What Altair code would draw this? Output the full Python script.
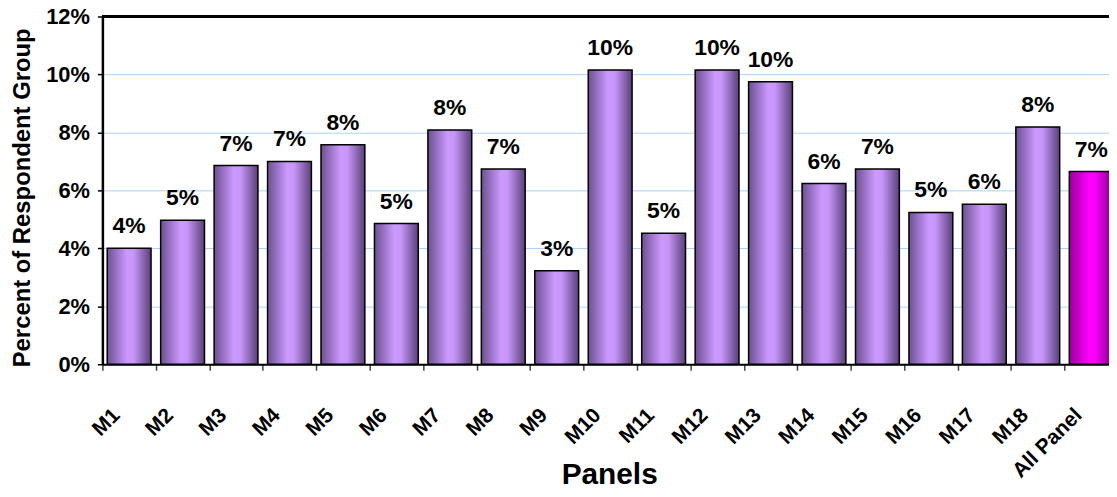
import altair as alt
import pandas as pd

panels = ["M1", "M2", "M3", "M4", "M5", "M6", "M7", "M8", "M9", "M10",
          "M11", "M12", "M13", "M14", "M15", "M16", "M17", "M18", "All Panel"]
values = [0.0400, 0.0497, 0.0686, 0.0700, 0.0757, 0.0486, 0.0808, 0.0674, 0.0323, 0.1015,
          0.0452, 0.1015, 0.0975, 0.0624, 0.0674, 0.0524, 0.0552, 0.0819, 0.0665]
y_ticks = [0.0, 0.02, 0.04, 0.06, 0.08, 0.10, 0.12]

df = pd.DataFrame({"panel": panels, "value": values})

FONT = "Liberation Sans"

x_enc = alt.X(
    "panel:N", sort=panels,
    scale=alt.Scale(paddingInner=0.18, paddingOuter=0.09),
    axis=alt.Axis(
        title="Panels", titleFont=FONT, titleFontSize=30, titleFontWeight="bold",
        titleColor="black", titleX=510, titleY=120, titleAlign="center",
        titleBaseline="alphabetic",
        labelAngle=-45, labelFont=FONT, labelFontSize=21, labelFontWeight="bold",
        labelColor="black", labelPadding=34, labelOffset=-16,
        bandPosition=0, tickOffset=-4.8, tickSize=6, tickColor="#444444",
        tickWidth=1.5, domainColor="black", domainWidth=2, grid=False,
        labelOverlap=False,
    ),
)
y_enc = alt.Y(
    "value:Q",
    scale=alt.Scale(domain=[0, 0.12], nice=False),
    axis=alt.Axis(
        values=y_ticks, format=".0%", title="Percent of Respondent Group",
        titleFont=FONT, titleFontSize=24, titleFontWeight="bold", titleColor="black",
        titleAngle=-90, titleX=-80, titleY=182, titleAlign="center",
        titleBaseline="middle",
        labelFont=FONT, labelFontSize=22, labelFontWeight="bold", labelColor="black",
        labelPadding=8, tickSize=5, tickColor="black", tickWidth=1.5,
        domainColor="black", domainWidth=2.5,
        grid=True, gridColor="#a9d3f5", gridWidth=1,
    ),
)

purple = alt.LinearGradient(
    gradient="linear", x1=0, x2=1, y1=0, y2=0,
    stops=[alt.GradientStop(color="#6c5090", offset=0),
           alt.GradientStop(color="#cc99ff", offset=0.45),
           alt.GradientStop(color="#c896fa", offset=0.6),
           alt.GradientStop(color="#5a4078", offset=1)],
)
magenta = alt.LinearGradient(
    gradient="linear", x1=0, x2=1, y1=0, y2=0,
    stops=[alt.GradientStop(color="#990099", offset=0),
           alt.GradientStop(color="#ff00ff", offset=0.45),
           alt.GradientStop(color="#f800f8", offset=0.6),
           alt.GradientStop(color="#800080", offset=1)],
)

base = alt.Chart(df).encode(x=x_enc, y=y_enc)

bars_p = base.mark_bar(color=purple, stroke="black", strokeWidth=1.5).transform_filter(
    alt.datum.panel != "All Panel")
bars_m = base.mark_bar(color=magenta, stroke="black", strokeWidth=1.5).transform_filter(
    alt.datum.panel == "All Panel")
labels = base.mark_text(dy=-15, baseline="alphabetic", font=FONT, fontSize=23,
                        fontWeight="bold", color="black").encode(
    text=alt.Text("value:Q", format=".0%"))
top = alt.Chart(df).mark_rule(color="black", strokeWidth=3).encode(y=alt.datum(0.12))

chart = alt.layer(bars_p, bars_m, labels, top).properties(
    width=1022, height=350,
    autosize=alt.AutoSizeParams(type="none"),
    padding={"left": 95, "top": 7, "right": -9, "bottom": 124},
).configure_view(stroke=None).configure(background="white")

chart.save("out.html", embed_options={"renderer": "svg", "actions": False})
